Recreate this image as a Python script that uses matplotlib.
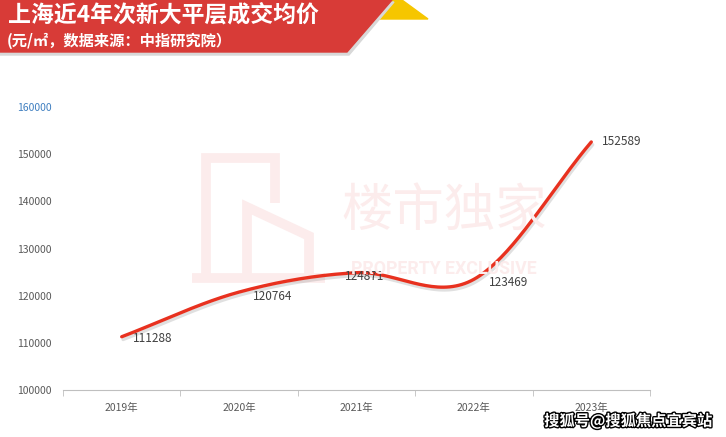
import numpy as np
import matplotlib.pyplot as plt
from matplotlib.patches import Polygon
import matplotlib.patheffects as pe

plt.rcParams['font.family'] = ['Noto Sans CJK SC', 'DejaVu Sans']

# 数据
years = ['2019年', '2020年', '2021年', '2022年', '2023年']
prices = [111288, 120764, 124871, 123469, 152589]
yticks = [100000, 110000, 120000, 130000, 140000, 150000, 160000]

title = '上海近4年次新大平层成交均价'
subtitle = '(元/㎡，数据来源：中指研究院）'


def catmull_rom(x, y, n=40):
    # 平滑曲线（Catmull-Rom）
    x = np.asarray(x, float)
    y = np.asarray(y, float)
    px = np.concatenate([[2 * x[0] - x[1]], x, [2 * x[-1] - x[-2]]])
    py = np.concatenate([[2 * y[0] - y[1]], y, [2 * y[-1] - y[-2]]])
    xs, ys = [], []
    t = np.linspace(0, 1, n)
    for i in range(1, len(px) - 2):
        for p, out in ((px, xs), (py, ys)):
            p0, p1, p2, p3 = p[i - 1], p[i], p[i + 1], p[i + 2]
            out.append(0.5 * (2 * p1 + (-p0 + p2) * t
                              + (2 * p0 - 5 * p1 + 4 * p2 - p3) * t ** 2
                              + (-p0 + 3 * p1 - 3 * p2 + p3) * t ** 3))
    return np.concatenate(xs), np.concatenate(ys)


W, H = 726, 437
fig = plt.figure(figsize=(W / 100, H / 100), dpi=100)


def fx(px):
    return px / W


def fy(py):
    return 1 - py / H


# 水印
wm = '#fcecec'
logo = [[(206, 277), (206, 158), (275, 158), (275, 203)],
        [(247, 277), (247, 207), (309, 236), (309, 277)],
        [(192, 278), (325, 278)]]
for seg in logo:
    xs_, ys_ = zip(*seg)
    fig.add_artist(plt.Line2D([fx(v) for v in xs_], [fy(v) for v in ys_],
                              color=wm, lw=7, solid_capstyle='butt',
                              solid_joinstyle='miter', zorder=0))
fig.text(fx(444), fy(211), '楼市独家', fontsize=37, color=wm, fontweight='light',
         ha='center', va='center', zorder=0)
fig.text(fx(444), fy(269), 'PROPERTY EXCLUSIVE', fontsize=12.8, color=wm,
         fontweight='bold', ha='center', va='center', family=['Roboto'], zorder=0)

ax = fig.add_axes([fx(63), fy(390), fx(650) - fx(63), fy(107) - fy(390)])
ax.patch.set_alpha(0)

x = np.arange(len(years))
cx, cy = catmull_rom(x, prices)
ax.plot(cx, cy, color='#e8311f', lw=2.4, solid_capstyle='round',
        path_effects=[pe.SimpleLineShadow(offset=(1, -2), shadow_color='#999999', alpha=0.3),
                      pe.Normal()])

offsets = [(8, -1), (10, -3), (-8, -3), (11, -2), (8, 0)]
for xi, v, off in zip(x, prices, offsets):
    ax.annotate(str(v), (xi, v), xytext=off, textcoords='offset points',
                fontsize=8.5, color='#404040', ha='left', va='center')

ax.set_xlim(-0.5, 4.5)
ax.set_ylim(100000, 160000)
ax.set_yticks(yticks)
ax.set_yticklabels([str(v) for v in yticks], fontsize=7.5, color='#595959')
ax.get_yticklabels()[-1].set_color('#3f7fc0')
ax.tick_params(axis='y', length=0, pad=8)

ax.set_xticks(x)
ax.set_xticklabels(years, fontsize=7.5, color='#595959')
ax.set_xticks(np.arange(-0.5, 5, 1), minor=True)
ax.tick_params(axis='x', which='major', length=0, pad=9)
ax.tick_params(axis='x', which='minor', length=4, color='#bfbfbf', direction='out')

for s in ['top', 'right', 'left']:
    ax.spines[s].set_visible(False)
ax.spines['bottom'].set_color('#bfbfbf')

# 标题横幅
yellow = Polygon([(fx(385), fy(0)), (fx(402), fy(0)), (fx(428), fy(19)), (fx(372), fy(19))],
                 closed=True, color='#f6c600', transform=fig.transFigure, zorder=1)
shadow = Polygon([(fx(0), fy(2)), (fx(394), fy(2)), (fx(349), fy(55)), (fx(0), fy(55))],
                 closed=True, color='#d8d8d8', transform=fig.transFigure, zorder=1)
red = Polygon([(fx(0), fy(0)), (fx(392), fy(0)), (fx(347), fy(52)), (fx(0), fy(52))],
              closed=True, color='#d83b37', transform=fig.transFigure, zorder=2)
for p in (yellow, shadow, red):
    fig.add_artist(p)

fig.text(fx(8), fy(15), title, fontsize=16.5, fontweight='bold', color='white',
         ha='left', va='center', zorder=3)
fig.text(fx(7), fy(41), subtitle, fontsize=11, fontweight='bold', color='white',
         ha='left', va='center', zorder=3)

fig.text(fx(712), fy(421), '搜狐号@搜狐焦点宜宾站', fontsize=11, fontweight='bold',
         color='white', ha='right', va='center', zorder=5,
         path_effects=[pe.withStroke(linewidth=2, foreground='black')])

fig.savefig('out.png', dpi=100)
